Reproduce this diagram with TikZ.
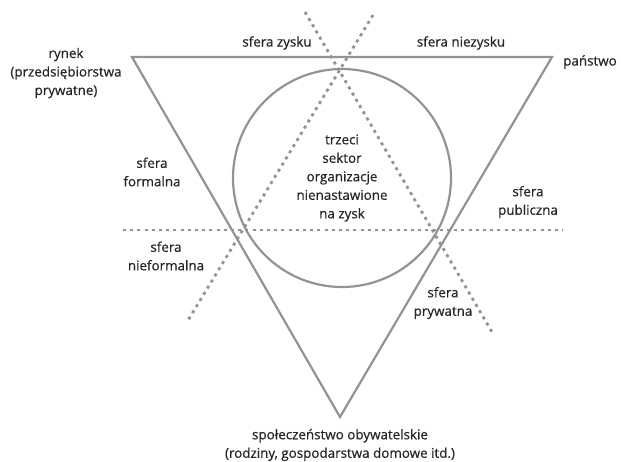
\documentclass[tikz,border=0pt]{standalone}
\usepackage{fontspec}
\setmainfont[FakeBold=0.6,AutoFakeBold=0.6]{Open Sans}
\usepackage{tikz}
\usepackage{xcolor}
\usetikzlibrary{calc,positioning}

\begin{document}
\begin{tikzpicture}[
    x=1pt, y=-1pt,
    font=\fontsize{13.4}{18.5}\selectfont\bfseries,
    side/.style={draw=gray!85, line width=2.2pt, line join=miter},
    split/.style={draw=gray!85, line width=2.8pt, dash pattern=on 3pt off 4.2pt},
    lbl/.style={align=center, inner sep=1pt, text=black!85}
  ]
    \useasboundingbox (0,0) rectangle (621,461);
    \coordinate (rynekpt) at (132,57);
    \coordinate (panstwopt) at (552,57);
    \coordinate (spolpt) at (340,417);
    \coordinate (zyskA) at (305,12);
    \coordinate (zyskB) at (492,332);
    \coordinate (formA) at (373,15);
    \coordinate (formB) at (187,322);
    \coordinate (publA) at (123,230);
    \coordinate (publB) at (563,230);
    \draw[side] (rynekpt) -- (panstwopt) -- (spolpt) -- cycle;
    \node[circle, side, minimum size=218pt, lbl] (sektor) at (342,178) {trzeci\\sektor\\organizacje\\nienastawione\\na zysk};
    \draw[split] (zyskA) -- (zyskB);
    \draw[split] (formA) -- (formB);
    \draw[split] (publA) -- (publB);
    \node[lbl] (rynek) at (66,73) {rynek\\(przedsiębiorstwa\\prywatne)};
    \node[lbl] (panstwo) at (590,62) {państwo};
    \node[lbl] (zysk) at (277,43) {sfera zysku};
    \node[lbl] (niezysk) at (461,43) {sfera niezysku};
    \node[lbl] (formalna) at (152,172) {sfera\\formalna};
    \node[lbl] (nieformalna) at (166,256) {sfera\\nieformalna};
    \node[lbl] (publiczna) at (528,202) {sfera\\publiczna};
    \node[lbl] (prywatna) at (443,303) {sfera\\prywatna};
    \node[lbl] (spoleczenstwo) at (340,445) {społeczeństwo obywatelskie\\(rodziny, gospodarstwa domowe itd.)};
  \end{tikzpicture}
\end{document}
